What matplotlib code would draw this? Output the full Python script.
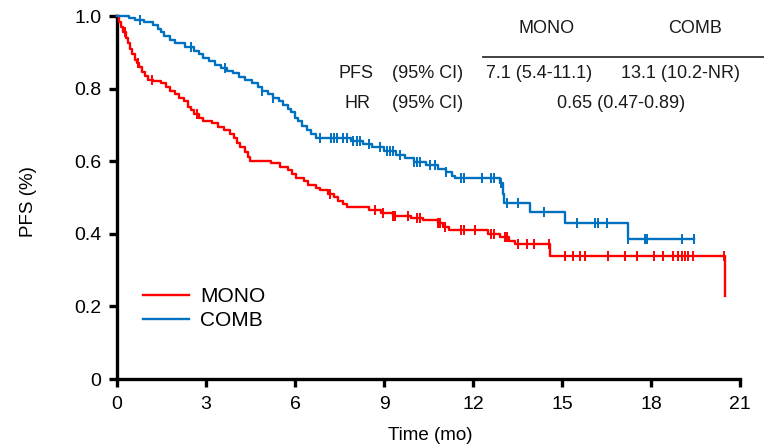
import numpy as np
import matplotlib
matplotlib.use("Agg")
import matplotlib.pyplot as plt

plt.rcParams['font.family'] = ['Liberation Sans', 'DejaVu Sans']

# Kaplan-Meier step points (time in months, survival after the drop)
mono_t = [0, 0.08, 0.15, 0.22, 0.3, 0.38, 0.45, 0.52, 0.6, 0.68, 0.75, 0.85, 0.95,
          1.05, 1.2, 1.5, 1.65, 1.8, 1.95, 2.1, 2.25, 2.4, 2.5, 2.6, 2.75, 2.9, 3.2,
          3.4, 3.6, 3.8, 3.95, 4.05, 4.15, 4.3, 4.4, 4.5, 5.2, 5.5, 5.75, 5.9, 6.05,
          6.3, 6.45, 6.7, 6.85, 7.1, 7.3, 7.45, 7.6, 7.75, 8.5, 8.9, 9.3, 9.9, 10.3,
          10.8, 11.0, 11.2, 12.5, 12.9, 13.2, 13.4, 14.6, 20.5]
mono_s = [1.0, 0.985, 0.97, 0.955, 0.94, 0.925, 0.91, 0.895, 0.88, 0.87, 0.86,
          0.845, 0.835, 0.825, 0.82, 0.815, 0.805, 0.795, 0.785, 0.775, 0.765, 0.75,
          0.74, 0.73, 0.72, 0.712, 0.705, 0.695, 0.685, 0.675, 0.665, 0.65, 0.64,
          0.625, 0.612, 0.60, 0.595, 0.585, 0.575, 0.565, 0.555, 0.545, 0.535, 0.527,
          0.52, 0.51, 0.502, 0.49, 0.482, 0.475, 0.465, 0.458, 0.45, 0.445, 0.438,
          0.43, 0.42, 0.41, 0.40, 0.39, 0.38, 0.372, 0.34, 0.23]
mono_end = 20.5
mono_cens = [0.27, 0.7, 1.18, 2.7, 7.18, 8.7, 8.97, 9.3, 9.37, 9.8, 10.1, 10.2, 10.8,
             10.9, 11.05, 11.6, 11.7, 12.07, 12.6, 12.7, 13.08, 13.14, 13.5, 13.8,
             14.05, 14.55, 15.1, 15.37, 15.6, 15.77, 16.55, 17.12, 17.53, 18.1, 18.4,
             18.74, 18.9, 19.04, 19.14, 19.24, 19.4, 20.45]

comb_t = [0, 0.4, 0.6, 0.9, 1.2, 1.4, 1.5, 1.6, 1.8, 1.95, 2.3, 2.6, 2.75, 2.9, 3.1,
          3.3, 3.5, 3.7, 3.9, 4.1, 4.3, 4.55, 4.75, 4.9, 5.1, 5.25, 5.45, 5.6, 5.75,
          5.85, 6.0, 6.1, 6.25, 6.4, 6.55, 6.7, 7.9, 8.3, 8.6, 9.0, 9.4, 9.7, 10.0,
          10.4, 10.8, 11.1, 11.3, 11.4, 12.9, 13.0, 13.05, 13.9, 15.1, 17.2]
comb_s = [1.0, 0.995, 0.988, 0.983, 0.975, 0.965, 0.955, 0.945, 0.935, 0.925, 0.915,
          0.905, 0.895, 0.885, 0.875, 0.865, 0.857, 0.85, 0.842, 0.833, 0.825, 0.815,
          0.805, 0.795, 0.785, 0.775, 0.765, 0.755, 0.745, 0.735, 0.72, 0.71, 0.698,
          0.685, 0.675, 0.665, 0.657, 0.648, 0.638, 0.628, 0.618, 0.608, 0.598, 0.59,
          0.58, 0.57, 0.56, 0.555, 0.54, 0.51, 0.485, 0.46, 0.43, 0.385]
comb_end = 19.45
comb_cens = [0.77, 2.5, 3.64, 4.9, 5.26, 6.84, 7.2, 7.3, 7.4, 7.6, 7.75, 7.95, 8.1,
             8.2, 8.5, 8.86, 9.1, 9.2, 9.3, 9.54, 10.0, 10.1, 10.2, 10.55, 10.7, 11.1,
             11.6, 11.7, 12.3, 12.6, 12.7, 12.95, 13.14, 13.5, 14.4, 15.5, 16.1, 16.2,
             16.5, 17.2, 17.8, 17.85, 19.04, 19.45]

groups = ["MONO", "COMB"]
colors = ["#FF0000", "#0070C0"]


def surv_at(t_steps, s_steps, t):
    idx = np.searchsorted(t_steps, t, side='right') - 1
    return np.asarray(s_steps)[idx]


fig = plt.figure(figsize=(7.64, 4.48), dpi=100)
ax = fig.add_axes([0.153, 0.154, 0.816, 0.81])

series = [(mono_t, mono_s, mono_end, mono_cens), (comb_t, comb_s, comb_end, comb_cens)]
for (t, s, end, cens), name, c in zip(series, groups, colors):
    tt = list(t) + [end]
    ss = list(s) + [s[-1]]
    ax.step(tt, ss, where='post', color=c, lw=1.7, label=name, clip_on=False, zorder=3)
    ax.plot(cens, surv_at(t, s, cens), ls='none', marker='|', ms=7, mew=1.4,
            color=c, clip_on=False, zorder=3)

ax.set_xlim(0, 21)
ax.set_ylim(0, 1.0)
ax.set_xticks(np.arange(0, 22, 3))
ax.set_yticks([0, 0.2, 0.4, 0.6, 0.8, 1.0])
ax.set_yticklabels(["0", "0.2", "0.4", "0.6", "0.8", "1.0"])
for side in ['top', 'right']:
    ax.spines[side].set_visible(False)
for side in ['left', 'bottom']:
    ax.spines[side].set_linewidth(2.4)
ax.tick_params(width=2.4, length=6, labelsize=14)
ax.tick_params(axis='x', pad=6)
ax.tick_params(axis='y', pad=5)
ax.set_xlabel("Time (mo)", fontsize=13.5)
ax.set_ylabel("PFS (%)", fontsize=13.5)
ax.xaxis.set_label_coords(0.502, -0.132)
ax.yaxis.set_label_coords(-0.128, 0.49)

leg = ax.legend(loc='lower left', bbox_to_anchor=(0.042, 0.135), frameon=False,
                fontsize=15, handlelength=2.2, handletextpad=0.55, labelspacing=0.25,
                borderpad=0, borderaxespad=0)

# summary table
tk = dict(transform=ax.transAxes, fontsize=13, va='center', color='#1a1a1a')
ax.text(0.690, 0.965, "MONO", ha='center', **tk)
ax.text(0.928, 0.965, "COMB", ha='center', **tk)
ax.plot([0.587, 1.04], [0.887, 0.887], transform=ax.transAxes, color='#333333',
        lw=1.3, clip_on=False)
ax.text(0.412, 0.843, "PFS", ha='right', **tk)
ax.text(0.441, 0.843, "(95% CI)", ha='left', **tk)
ax.text(0.592, 0.843, "7.1 (5.4-11.1)", ha='left', **tk)
ax.text(0.808, 0.843, "13.1 (10.2-NR)", ha='left', **tk)
ax.text(0.406, 0.760, "HR", ha='right', **tk)
ax.text(0.441, 0.760, "(95% CI)", ha='left', **tk)
ax.text(0.808, 0.760, "0.65 (0.47-0.89)", ha='center', **tk)

fig.savefig("out.png", dpi=100)
